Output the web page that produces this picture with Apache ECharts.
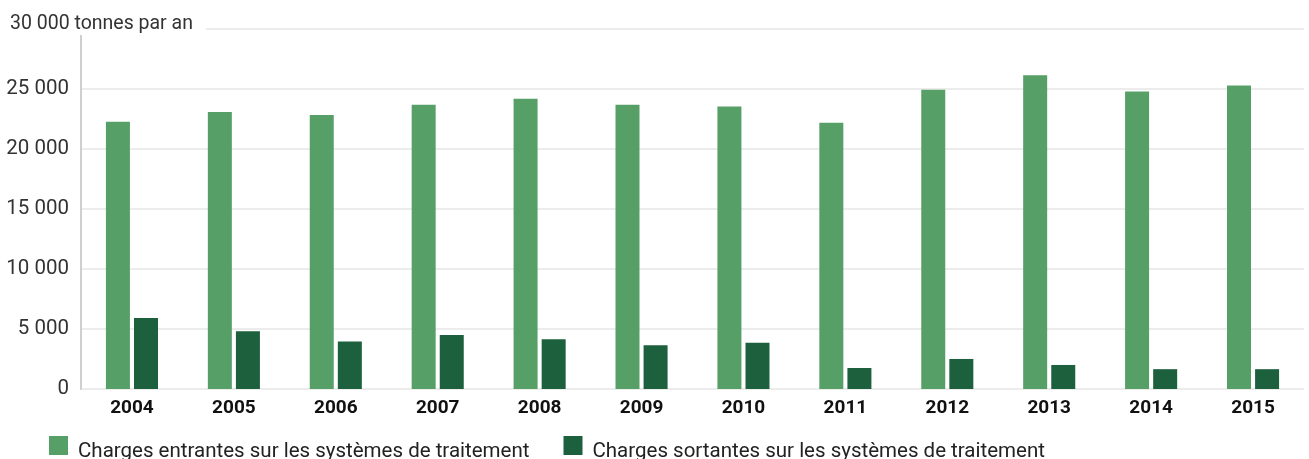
<!DOCTYPE html>
<html lang="fr">
<head>
    <meta charset="UTF-8">
    <title>Charges entrantes et sortantes</title>
    <script src="https://cdn.jsdelivr.net/npm/echarts@6/dist/echarts.min.js"></script>
    <style>
        html, body { margin: 0; padding: 0; background: #fff; }
        #chart { width: 1309px; height: 459px; }
    </style>
</head>
<body>
<div id="chart"></div>
<script>
    // données (tonnes par an)
    var years = ['2004', '2005', '2006', '2007', '2008', '2009', '2010', '2011', '2012', '2013', '2014', '2015'];
    var entrantes = [22250, 23050, 22800, 23650, 24150, 23650, 23500, 22150, 24900, 26100, 24750, 25250];
    var sortantes = [5900, 4800, 3950, 4500, 4150, 3650, 3850, 1750, 2500, 2000, 1650, 1650];
    var yTicks = [0, 5000, 10000, 15000, 20000, 25000, 30000];

    var font = 'Roboto';
    var myChart = echarts.init(document.getElementById('chart'));

    function fmt(v) {
        return String(v).replace(/\B(?=(\d{3})+(?!\d))/g, ' ');
    }

    var option = {
        animation: false,
        title: {
            text: fmt(yTicks[yTicks.length - 1]) + ' tonnes par an',
            left: 5,
            top: 9,
            z: 100,
            textStyle: { fontFamily: font, fontSize: 19.5, fontWeight: 'normal', color: '#333' }
        },
        graphic: [{
            type: 'rect',
            z: 50,
            shape: { x: 70, y: 20, width: 136, height: 15 },
            style: { fill: '#fff' }
        }],
        legend: {
            left: 44,
            top: 431,
            itemWidth: 19,
            itemHeight: 19,
            itemGap: 34,
            icon: 'rect',
            formatter: '{t|{name}}',
            textStyle: {
                fontFamily: font, fontSize: 20.5, color: '#222',
                rich: { t: { fontFamily: font, fontSize: 20.5, color: '#222', padding: [12, 0, 0, 5] } }
            },
            data: ['Charges entrantes sur les systèmes de traitement', 'Charges sortantes sur les systèmes de traitement']
        },
        grid: { left: 81, right: 5, top: 28.5, bottom: 70 },
        xAxis: {
            type: 'category',
            data: years,
            axisLine: { show: false },
            axisTick: { show: false },
            axisLabel: { fontFamily: font, fontSize: 19, fontWeight: 'bold', color: '#111', margin: 10 }
        },
        yAxis: {
            type: 'value',
            min: 0,
            max: 30000,
            interval: 5000,
            axisLine: { show: true, lineStyle: { color: '#cfcfcf', width: 2 } },
            axisTick: { show: false },
            splitLine: { lineStyle: { color: '#e6e6e6', width: 1.5 } },
            axisLabel: {
                fontFamily: font, fontSize: 20.5, color: '#333', margin: 12,
                formatter: function (v) { return v === 30000 ? '' : fmt(v); }
            }
        },
        series: [
            {
                name: 'Charges entrantes sur les systèmes de traitement',
                type: 'bar',
                data: entrantes,
                barWidth: 24,
                barGap: '17%',
                itemStyle: { color: '#569f67' }
            },
            {
                name: 'Charges sortantes sur les systèmes de traitement',
                type: 'bar',
                data: sortantes,
                barWidth: 24,
                itemStyle: { color: '#1c603e' }
            }
        ]
    };

    myChart.setOption(option);
</script>
</body>
</html>
